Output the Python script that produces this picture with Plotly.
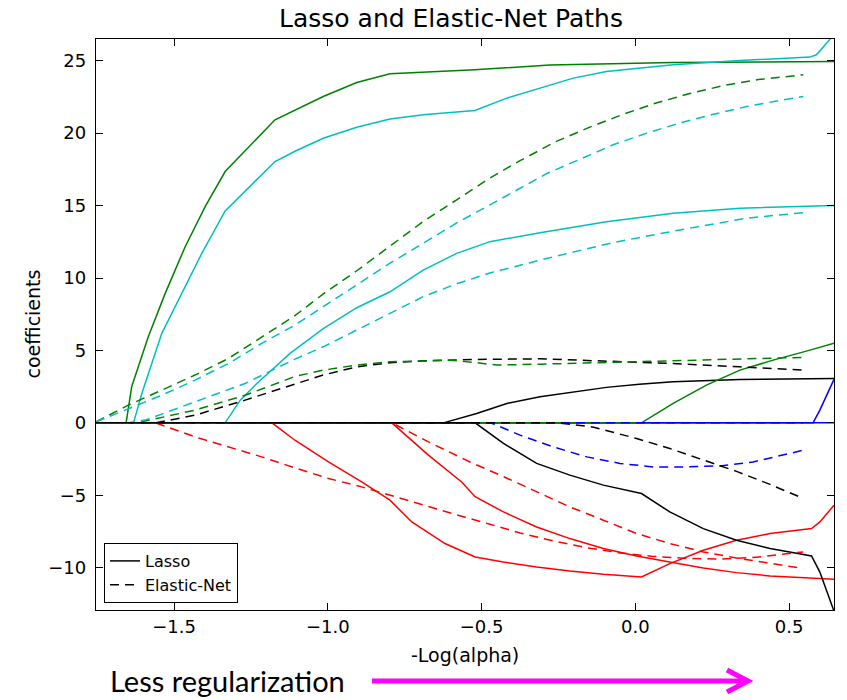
import plotly.graph_objects as go

# ---------------- data ----------------
X_LEFT = -1.754
X_RIGHT_LASSO = 0.646
X_RIGHT_EN = 0.546

x_ticks = [-1.5, -1.0, -0.5, 0.0, 0.5]
y_ticks = [-10, -5, 0, 5, 10, 15, 20, 25]

# Lasso paths (solid)
lasso_blue_zero_x = [X_LEFT, X_RIGHT_LASSO]
lasso_blue_zero_y = [0, 0]

lasso_red_a_x = [X_LEFT, -1.182, -1.107, -0.998, -0.89, -0.798, -0.727, -0.619, -0.521, -0.429, -0.321,
                 -0.213, -0.104, 0.02, 0.112, 0.221, 0.329, 0.438, 0.573, 0.6, 0.646]
lasso_red_a_y = [0, 0, -1.2, -2.7, -4.08, -5.34, -6.84, -8.33, -9.26, -9.61, -9.95,
                 -10.23, -10.46, -10.64, -9.72, -8.8, -8.11, -7.64, -7.3, -6.84, -5.69]

lasso_green_top_x = [X_LEFT, -1.656, -1.638, -1.584, -1.529, -1.464, -1.399, -1.334, -1.172,
                     -1.107, -1.015, -0.906, -0.798, -0.522, -0.278, 0.123, 0.646]
lasso_green_top_y = [0, 0, 2.49, 5.94, 8.94, 12.16, 14.93, 17.35, 20.92,
                     21.6, 22.53, 23.5, 24.1, 24.38, 24.7, 24.88, 24.95]

lasso_cyan_top_x = [X_LEFT, -1.632, -1.605, -1.54, -1.475, -1.41, -1.334, -1.172, -1.107, -1.015,
                    -0.906, -0.798, -0.69, -0.522, -0.418, -0.278, -0.202, -0.094, 0.123, 0.34,
                    0.568, 0.589, 0.646]
lasso_cyan_top_y = [0, 0, 2.03, 6.18, 8.94, 11.7, 14.63, 18.04, 18.75, 19.65,
                    20.41, 20.97, 21.27, 21.56, 22.42, 23.3, 23.8, 24.26, 24.72, 25.02,
                    25.25, 25.41, 26.8]

lasso_black_pos_x = [X_LEFT, -0.624, -0.516, -0.418, -0.31, -0.202, -0.094, 0.013, 0.123, 0.34, 0.646]
lasso_black_pos_y = [0, 0, 0.65, 1.34, 1.8, 2.14, 2.45, 2.67, 2.83, 3.0, 3.07]

lasso_blue_pos_x = [X_LEFT, 0.578, 0.6, 0.646]
lasso_blue_pos_y = [0, 0, 0.88, 3.0]

lasso_red_b_x = [X_LEFT, -0.792, -0.673, -0.565, -0.521, -0.429, -0.321, -0.213, -0.104, 0.004,
                 0.112, 0.221, 0.329, 0.438, 0.646]
lasso_red_b_y = [0, 0, -2.23, -4.08, -5.1, -6.15, -7.19, -7.99, -8.68, -9.19,
                 -9.61, -10.02, -10.34, -10.57, -10.8]

lasso_green_low_x = [X_LEFT, 0.02, 0.123, 0.231, 0.34, 0.448, 0.568, 0.646]
lasso_green_low_y = [0, 0, 1.34, 2.61, 3.64, 4.33, 5.02, 5.49]

lasso_cyan_mid_x = [X_LEFT, -1.334, -1.285, -1.231, -1.123, -1.015, -0.906, -0.798, -0.69, -0.581,
                    -0.473, -0.31, -0.094, 0.123, 0.34, 0.646]
lasso_cyan_mid_y = [0, 0, 1.57, 2.72, 4.8, 6.5, 7.95, 9.05, 10.55, 11.7,
                    12.51, 13.13, 13.89, 14.47, 14.82, 15.0]

lasso_black_neg_x = [X_LEFT, -0.521, -0.429, -0.321, -0.213, -0.104, 0.02, 0.112, 0.221, 0.329,
                     0.438, 0.573, 0.6, 0.646]
lasso_black_neg_y = [0, 0, -1.42, -2.8, -3.61, -4.3, -4.88, -6.15, -7.3, -8.11,
                     -8.68, -9.19, -10.3, -13.0]

# Elastic-Net paths (dashed)
en_blue_zero_x = [X_LEFT, X_RIGHT_EN]
en_blue_zero_y = [0, 0]

en_red_a_x = [X_LEFT, -1.56, -1.432, -1.323, -1.215, -1.107, -0.998, -0.89, -0.782, -0.673, -0.565,
              -0.473, -0.375, -0.267, -0.158, -0.05, 0.058, 0.167, 0.275, 0.383, 0.465, X_RIGHT_EN]
en_red_a_y = [0, 0, -0.97, -1.66, -2.35, -3.11, -3.84, -4.42, -5.11, -5.8, -6.45,
              -7.0, -7.6, -8.15, -8.62, -8.98, -9.22, -9.36, -9.4, -9.3, -9.12, -8.91]

en_green_top_x = [X_LEFT, -1.649, -1.54, -1.432, -1.323, -1.215, -1.107, -1.015, -0.906, -0.798, -0.69,
                  -0.581, -0.473, -0.375, -0.26, -0.15, -0.04, 0.07, 0.18, 0.29, 0.40, X_RIGHT_EN]
en_green_top_y = [0.07, 1.22, 2.26, 3.3, 4.45, 5.9, 7.4, 8.9, 10.5, 12.2, 13.9,
                  15.4, 16.9, 18.1, 19.4, 20.4, 21.3, 22.1, 22.75, 23.3, 23.7, 24.03]

en_cyan_top_x = [X_LEFT, -1.649, -1.54, -1.432, -1.323, -1.215, -1.107, -1.015, -0.906, -0.798, -0.69,
                 -0.581, -0.473, -0.375, -0.289, -0.18, -0.072, 0.037, 0.145, 0.254, 0.362, 0.455,
                 X_RIGHT_EN]
en_cyan_top_y = [0.07, 0.99, 1.91, 2.95, 4.1, 5.49, 6.75, 8.02, 9.52, 11.02, 12.4,
                 13.8, 15.05, 16.2, 17.2, 18.2, 19.2, 20.0, 20.7, 21.3, 21.84, 22.2,
                 22.53]

en_black_pos_x = [X_LEFT, -1.56, -1.432, -1.269, -1.107, -1.015, -0.906, -0.798, -0.69, -0.516,
                  -0.31, -0.094, 0.123, 0.34, X_RIGHT_EN]
en_black_pos_y = [0, 0, 0.53, 1.57, 2.68, 3.3, 3.87, 4.15, 4.28, 4.38,
                  4.42, 4.28, 4.1, 3.87, 3.64]

en_blue_x = [X_LEFT, -0.47, -0.375, -0.267, -0.158, -0.05, 0.058, 0.167, 0.275, 0.383, X_RIGHT_EN]
en_blue_y = [0, 0, -0.85, -1.66, -2.35, -2.8, -3.04, -3.04, -2.97, -2.7, -1.89]

en_red_b_x = [X_LEFT, -0.792, -0.673, -0.538, -0.429, -0.321, -0.213, -0.104, 0.004, 0.112, 0.221,
              0.329, 0.438, X_RIGHT_EN]
en_red_b_y = [0, 0, -1.31, -2.7, -3.71, -4.75, -5.8, -6.72, -7.64, -8.33, -8.91,
              -9.33, -9.72, -10.06]

en_green_low_x = [X_LEFT, -1.62, -1.432, -1.269, -1.107, -1.015, -0.906, -0.798, -0.668, -0.603,
                  -0.516, -0.451, -0.31, 0.013, 0.34, X_RIGHT_EN]
en_green_low_y = [0, 0, 0.88, 1.91, 3.2, 3.64, 3.99, 4.22, 4.28, 4.33,
                  4.15, 3.99, 4.05, 4.22, 4.38, 4.52]

en_cyan_low_x = [X_LEFT, -1.65, -1.594, -1.432, -1.269, -1.107, -1.015, -0.906, -0.798, -0.69,
                 -0.581, -0.473, -0.289, -0.072, 0.145, 0.362, X_RIGHT_EN]
en_cyan_low_y = [0, 0, 0.19, 1.45, 2.72, 4.4, 5.25, 6.41, 7.56, 8.71,
                 9.6, 10.35, 11.35, 12.45, 13.32, 14.13, 14.51]

en_black_neg_x = [X_LEFT, -0.25, -0.136, 0.004, 0.112, 0.221, 0.329, 0.438, X_RIGHT_EN]
en_black_neg_y = [0, 0, -0.3, -1.08, -1.77, -2.58, -3.35, -4.25, -5.22]

# ---------------- styling ----------------
C = {"b": "#0000ff", "r": "#ff0000", "g": "#008000", "c": "#00bfbf", "k": "#000000"}
FONT = "DejaVu Sans"
DASH = "9px,6px"

lasso = [
    (lasso_blue_zero_x, lasso_blue_zero_y, "b"),
    (lasso_red_a_x, lasso_red_a_y, "r"),
    (lasso_green_top_x, lasso_green_top_y, "g"),
    (lasso_cyan_top_x, lasso_cyan_top_y, "c"),
    (lasso_black_pos_x, lasso_black_pos_y, "k"),
    (lasso_blue_pos_x, lasso_blue_pos_y, "b"),
    (lasso_red_b_x, lasso_red_b_y, "r"),
    (lasso_green_low_x, lasso_green_low_y, "g"),
    (lasso_cyan_mid_x, lasso_cyan_mid_y, "c"),
    (lasso_black_neg_x, lasso_black_neg_y, "k"),
]
enet = [
    (en_blue_zero_x, en_blue_zero_y, "b"),
    (en_red_a_x, en_red_a_y, "r"),
    (en_green_top_x, en_green_top_y, "g"),
    (en_cyan_top_x, en_cyan_top_y, "c"),
    (en_black_pos_x, en_black_pos_y, "k"),
    (en_blue_x, en_blue_y, "b"),
    (en_red_b_x, en_red_b_y, "r"),
    (en_green_low_x, en_green_low_y, "g"),
    (en_cyan_low_x, en_cyan_low_y, "c"),
    (en_black_neg_x, en_black_neg_y, "k"),
]

fig = go.Figure()
for i, (xs, ys, col) in enumerate(lasso):
    fig.add_trace(go.Scatter(x=xs, y=ys, mode="lines", name="Lasso", showlegend=(i == 9), legendrank=1,
                             line=dict(color=C[col], width=1.5), hoverinfo="skip"))
for i, (xs, ys, col) in enumerate(enet):
    fig.add_trace(go.Scatter(x=xs, y=ys, mode="lines", name="Elastic-Net", showlegend=(i == 9),
                             legendrank=2, line=dict(color=C[col], width=1.5, dash=DASH),
                             hoverinfo="skip"))

# plot area geometry in pixels
L, R, T, B = 96, 834, 39, 610
W, H = 847, 700


def xp(px):
    return (px - L) / (R - L)


def yp(py):
    return (B - py) / (B - T)


axis_common = dict(showgrid=False, zeroline=False, showline=True, linecolor="black", linewidth=1.3,
                   mirror="ticks", ticks="inside", ticklen=7, tickwidth=1, tickcolor="black",
                   tickfont=dict(family=FONT, size=18, color="black"))

fig.update_layout(
    width=W, height=H, autosize=False,
    margin=dict(l=L, r=W - R, t=T, b=H - B, pad=0),
    paper_bgcolor="white", plot_bgcolor="white",
    title=dict(text="Lasso and Elastic-Net Paths", x=451 / W, xanchor="center", y=(H - 18) / H,
               yanchor="middle", yref="container", xref="container",
               font=dict(family=FONT, size=25, color="black")),
    xaxis=dict(range=[X_LEFT, X_RIGHT_LASSO], tickvals=x_ticks, tickformat=".1f", **axis_common),
    yaxis=dict(range=[-12.92, 26.5], tickvals=y_ticks, ticklabelstandoff=5, **axis_common),
    legend=dict(x=xp(104), y=yp(603), xanchor="left", yanchor="bottom", bordercolor="black",
                borderwidth=1, bgcolor="white", font=dict(family=FONT, size=16, color="black"),
                itemwidth=30, tracegroupgap=0, entrywidth=110, entrywidthmode="pixels"),
    annotations=[
        dict(text="-Log(alpha)", x=xp(465), y=yp(655), xref="paper", yref="paper", showarrow=False,
             xanchor="center", yanchor="middle", font=dict(family=FONT, size=19, color="black")),
        dict(text="coefficients", x=xp(32), y=0.5, xref="paper", yref="paper", showarrow=False,
             textangle=-90, xanchor="center", yanchor="middle",
             font=dict(family=FONT, size=19, color="black")),
        dict(text="Less regularization", x=xp(108), y=yp(680), xref="paper", yref="paper",
             showarrow=False, xanchor="left", yanchor="middle",
             font=dict(family="Lato", size=29, color="black")),
    ],
    shapes=[
        dict(type="line", xref="paper", yref="paper", x0=xp(372), y0=yp(681), x1=xp(745), y1=yp(681),
             line=dict(color="#ff00ff", width=5)),
        dict(type="path", xref="paper", yref="paper",
             path=f"M {xp(727)},{yp(670)} L {xp(748)},{yp(681)} L {xp(727)},{yp(692)}",
             line=dict(color="#ff00ff", width=5)),
    ],
)

fig.write_html("out.html")
